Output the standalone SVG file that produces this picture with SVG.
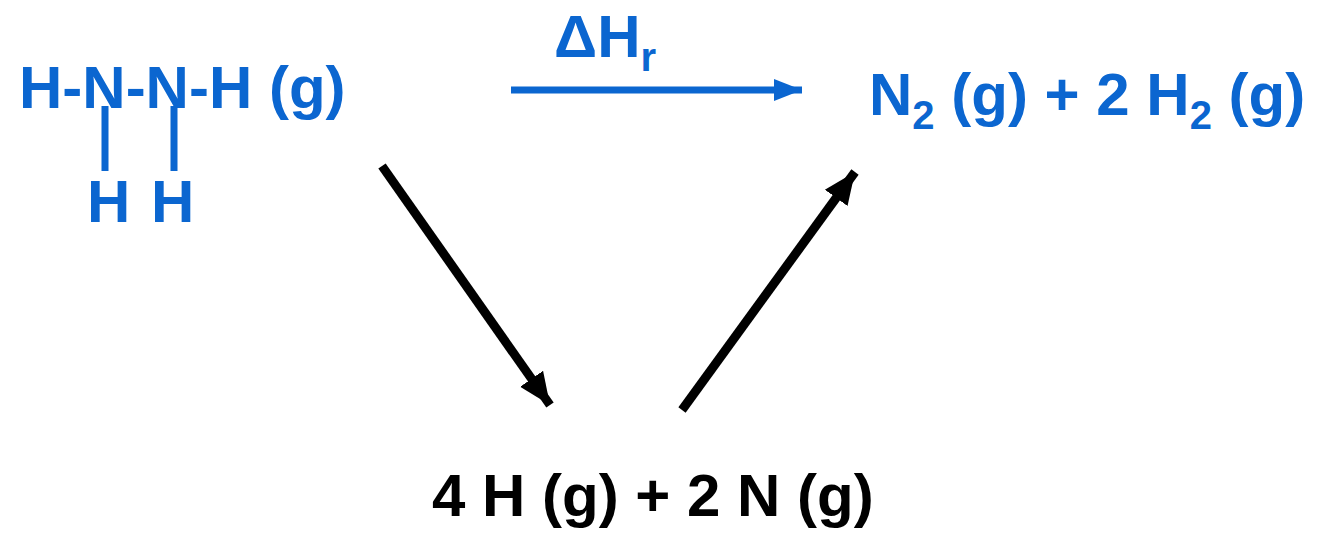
<svg xmlns="http://www.w3.org/2000/svg" width="1340" height="537" viewBox="0 0 1340 537">
<style>
text{font-family:"Liberation Sans",Arial,sans-serif;font-weight:700;font-size:60px}
.b{fill:#0b66d0}.k{fill:#000}
.sub{font-size:40px}
.lb{stroke:#0b66d0;stroke-width:7;fill:none}
.lk{stroke:#000;stroke-width:9;fill:none}
</style>
<defs>
<marker id="ab" markerUnits="userSpaceOnUse" markerWidth="30" markerHeight="26" refX="28" refY="13" orient="auto"><path d="M0 2L28 13L0 24z" fill="#0b66d0"/></marker>
<marker id="ak" markerUnits="userSpaceOnUse" markerWidth="34" markerHeight="32" refX="32" refY="16" orient="auto"><path d="M0 2L32 16L0 30z" fill="#000"/></marker>
</defs>
<rect width="1340" height="537" fill="#fff"/>
<g id="hydrazine">
<text class="b" x="19" y="108">H-N-N-H (g)</text>
<text class="b" x="87" y="222">H</text>
<text class="b" x="151" y="222">H</text>
<path class="lb" d="M105 106V171M174 106V171"/>
</g>
<g id="products">
<text class="b" x="869" y="115">N<tspan class="sub" dy="14">2</tspan><tspan dy="-14"> (g) + 2 H</tspan><tspan class="sub" dy="14">2</tspan><tspan dy="-14"> (g)</tspan></text>
</g>
<g id="atoms">
<text class="k" x="432" y="516">4 H (g) + 2 N (g)</text>
</g>
<g id="connectors">
<path class="lb" d="M511 90H802" marker-end="url(#ab)"/>
<path class="lk" d="M382 166L550 405" marker-end="url(#ak)"/>
<path class="lk" d="M682 410L855 172" marker-end="url(#ak)"/>
</g>
<g id="label">
<text class="b" x="554" y="57">ΔH<tspan class="sub" dy="14">r</tspan></text>
</g>
</svg>
